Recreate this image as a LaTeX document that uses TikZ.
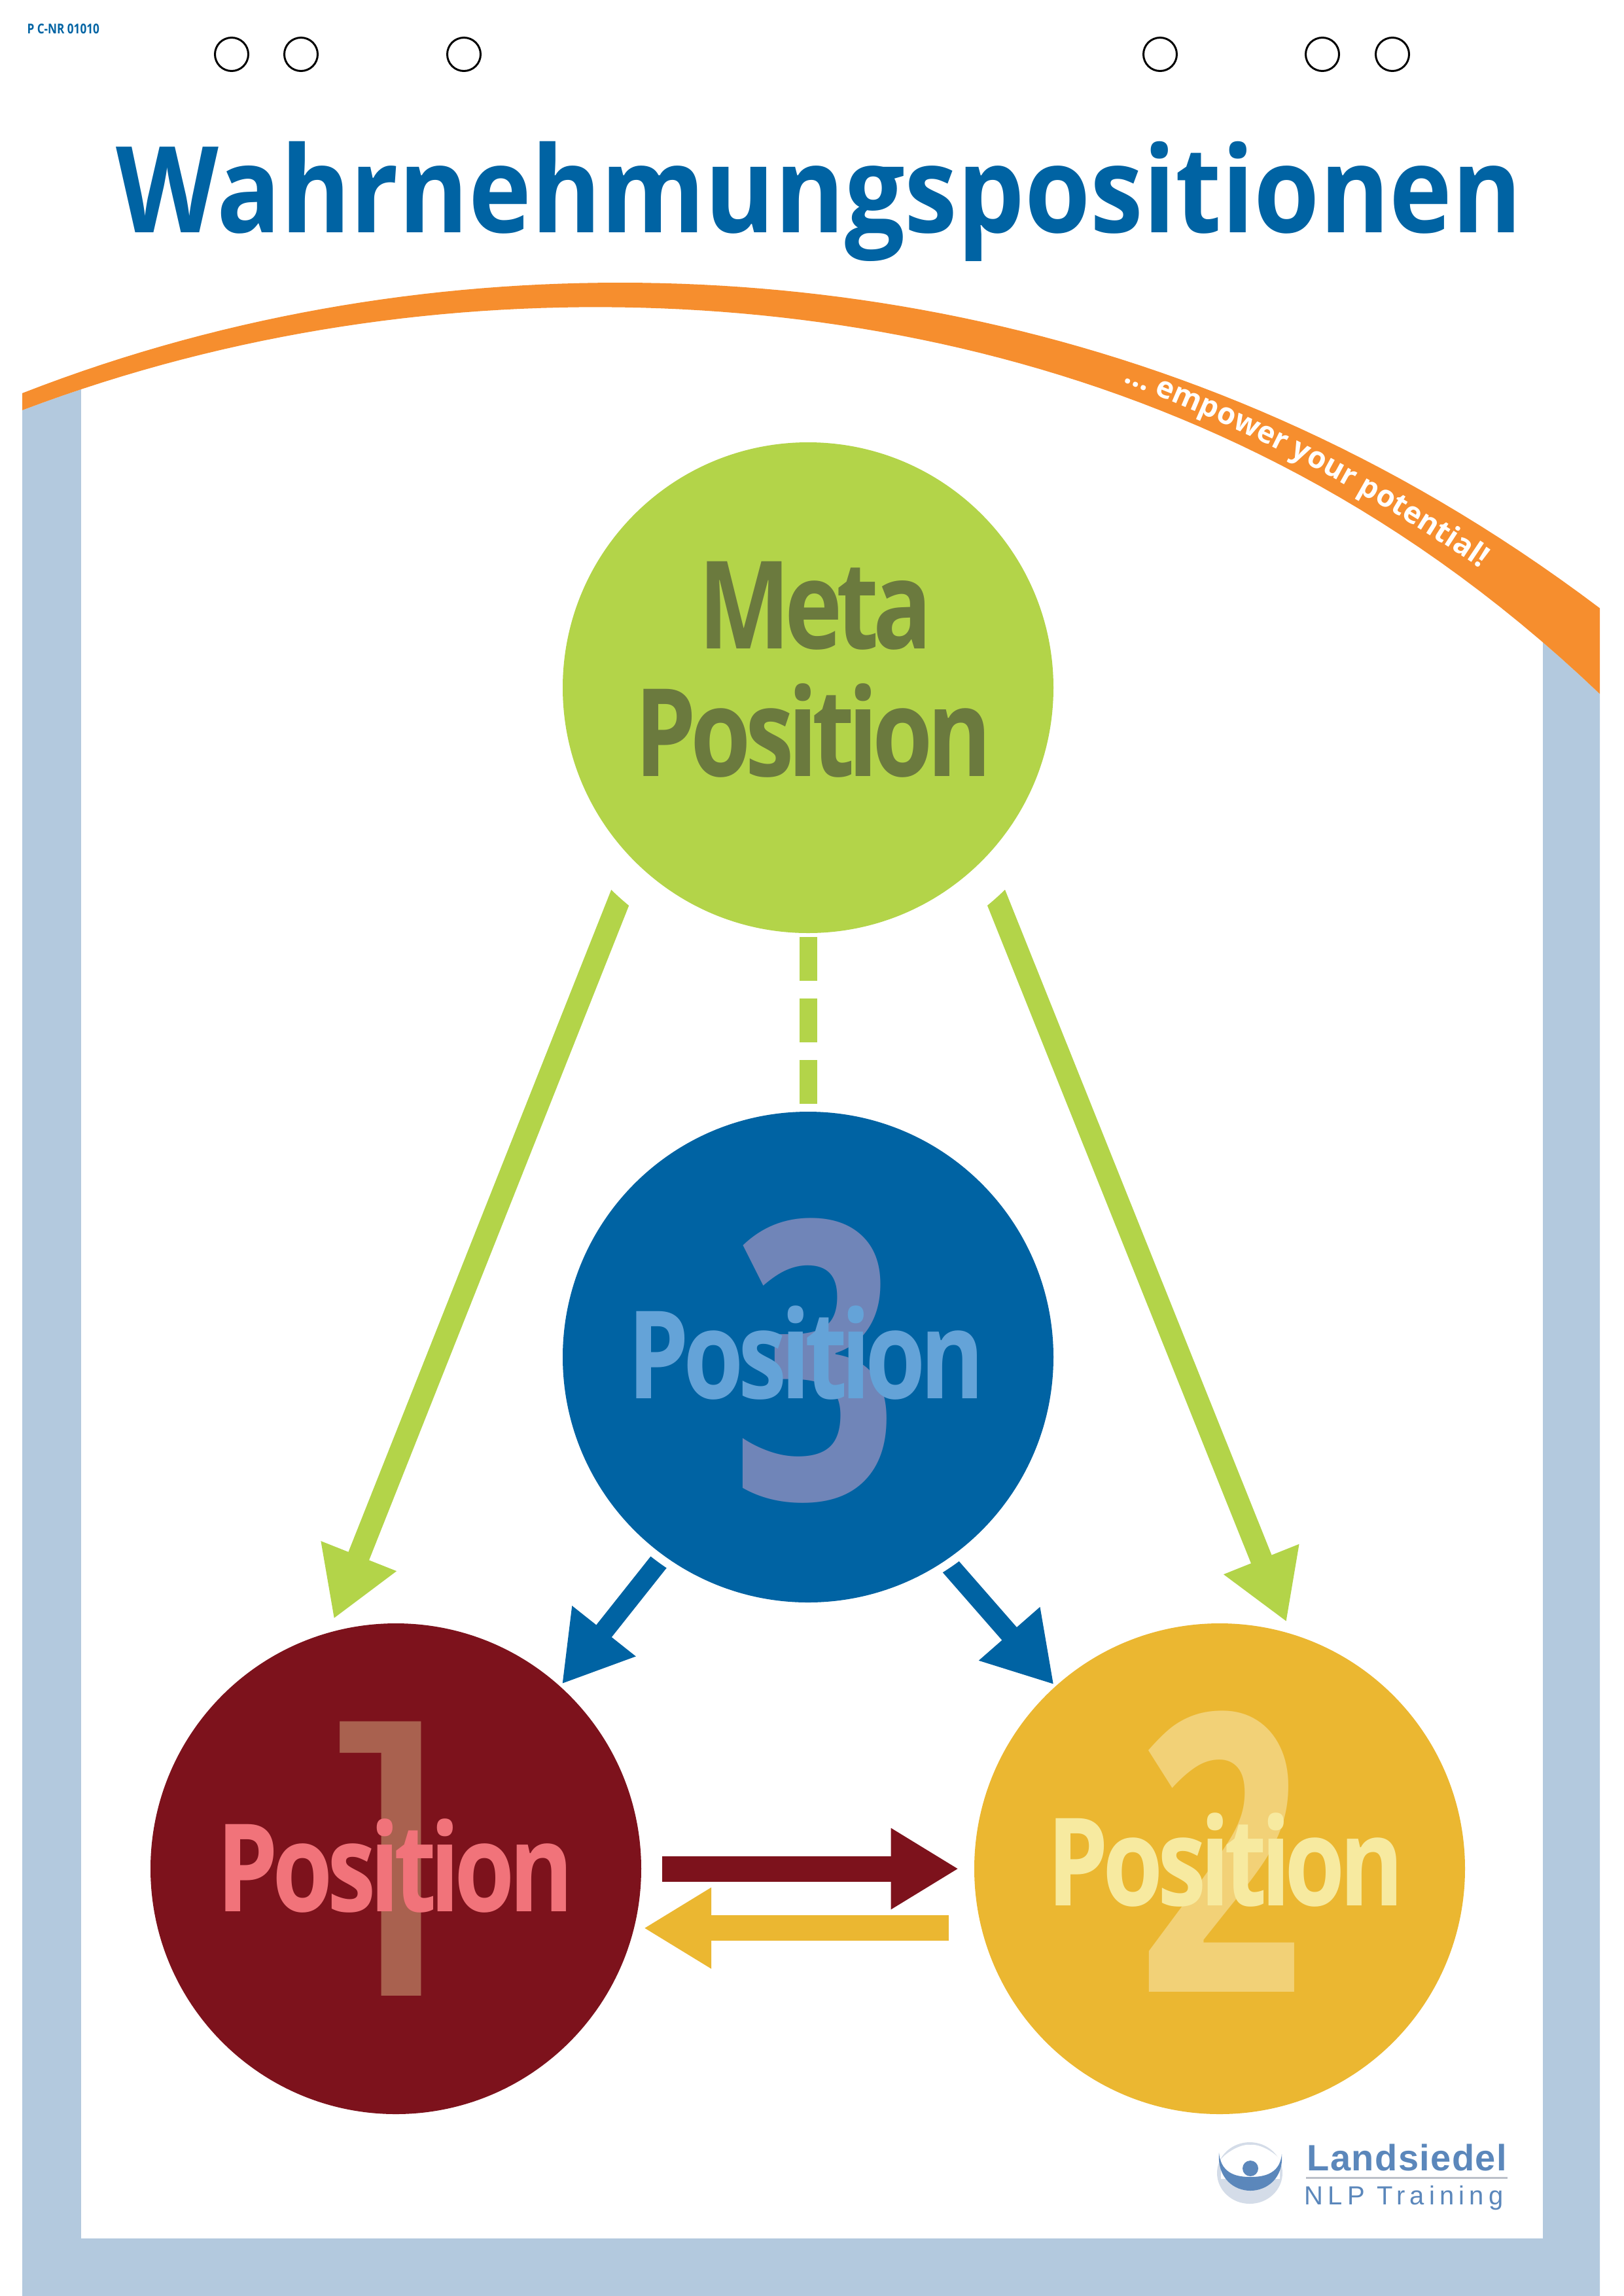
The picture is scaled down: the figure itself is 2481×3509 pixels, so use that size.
\documentclass[tikz,border=0pt]{standalone}
\usepackage{fontspec}
\usetikzlibrary{arrows.meta,decorations.text}
\newfontfamily\titlefont{Open Sans}
\newfontfamily\smallfont{Open Sans}
\newfontfamily\posfont[LetterSpace=-6]{Open Sans}
\newfontfamily\numfont{Open Sans}
\newfontfamily\onefont{Poppins}
\newfontfamily\tagfont{Open Sans}
\newfontfamily\logofont[LetterSpace=2.5]{Liberation Sans}
\newfontfamily\logothin[LetterSpace=18]{Liberation Sans}
\definecolor{framecol}{HTML}{B3C9DE}
\definecolor{bandcol}{HTML}{F68E2E}
\definecolor{titlecol}{HTML}{0063A3}
\definecolor{metacol}{HTML}{B3D449}
\definecolor{metatext}{HTML}{6B7A3E}
\definecolor{thirdcol}{HTML}{0063A3}
\definecolor{thirdtext}{HTML}{64A3D8}
\definecolor{thirdnum}{HTML}{7085B8}
\definecolor{firstcol}{HTML}{7D121C}
\definecolor{firsttext}{HTML}{F1737A}
\definecolor{firstnum}{HTML}{A9614F}
\definecolor{secondcol}{HTML}{EBB731}
\definecolor{secondtext}{HTML}{F7EAA0}
\definecolor{secondnum}{HTML}{F2D177}
\definecolor{logocol}{HTML}{5B87BB}
\definecolor{logolight}{HTML}{D4DCE8}
\pgfdeclarelayer{background}
\pgfsetlayers{background,main}
\tikzset{
  disc/.style={circle,minimum size=225pt,inner sep=0pt,outer sep=0pt},
  hole/.style={circle,draw=black,line width=0.9pt,minimum size=15.3pt,inner sep=0pt},
  postext/.style={anchor=base,inner sep=0pt,xscale=0.8,font={\posfont\bfseries\fontsize{56}{56}\selectfont}},
  numtext/.style={anchor=base,inner sep=0pt,xscale=0.75,font={\numfont\bfseries\fontsize{178}{178}\selectfont}},
  headtip/.style={-{Triangle[length=31pt,width=35pt]}},
  greenline/.style={headtip,draw=metacol,line width=10.2pt},
  blueline/.style={headtip,draw=thirdcol,line width=9pt},
  redline/.style={headtip,draw=firstcol,line width=11.7pt},
  yellowline/.style={headtip,draw=secondcol,line width=11.7pt},
}
\begin{document}
\begin{tikzpicture}[x=0.3pt,y=0.3pt,yscale=-1,xscale=1,
    declare function={
      upperedge(\x)=432+191.4*((\x-947)/1000)^2+13.5*((\x-947)/1000)^4;
      loweredge(\x)=upperedge(\x)+26+30*((\x-34)/2411)+75*((\x-34)/2411)^6;
    }]
    \useasboundingbox (0,0) rectangle (2481,3509);

    \begin{pgfonlayer}{background}
    %Shape: Frame
    \fill [framecol] plot [domain=34:2445,samples=80] (\x,{loweredge(\x)}) -- (2445,3509) -- (34,3509) -- cycle;
    \fill [white] (124,420) rectangle (2358,3421);
    %Shape: Band
    \fill [bandcol] plot [domain=34:2445,samples=80] (\x,{upperedge(\x)}) -- plot [domain=2445:34,samples=80] (\x,{loweredge(\x)}) -- cycle;
    \end{pgfonlayer}

    % Text Node
    \path [decorate,decoration={text along path,text color=white,text={|\tagfont\bfseries\fontsize{13.7}{13.7}\selectfont|... empower your potential!}}] plot [domain=1716:2400,samples=60] (\x,{upperedge(\x)+34+(\x-1716)*0.0568});

    % Text Node
    \node (nrlabel) [anchor=base west,inner sep=0pt,text=titlecol,xscale=0.83,font={\smallfont\bfseries\fontsize{6.2}{6.2}\selectfont}] at (41,51) {P C-NR 01010};
    \node (title) [anchor=base,inner sep=0pt,text=titlecol,xscale=0.885,font={\titlefont\bfseries\fontsize{55}{55}\selectfont}] at (1252,355) {Wahrnehmungspositionen};

    %Shape: Circle
    \foreach \holex/\holename in {354/a,460/b,709/c,1773/d,2021/e,2128/f}
      \node [hole] (hole\holename) at (\holex,83) {};

    %Shape: Circle
    \node [disc,fill=metacol] (meta) at (1235,1051) {};
    \node [disc,fill=thirdcol] (posthree) at (1235,2074) {};
    \node [disc,fill=firstcol] (posone) at (605,2856) {};
    \node [disc,fill=secondcol] (postwo) at (1864,2856) {};

    % Text Node
    \node (metaword) [postext,text=metatext] at (1246,991) {Meta};
    \node (metapos) [postext,text=metatext] at (1243,1186) {Position};
    \node (numthree) [numtext,text=thirdnum] at (1245,2291) {3};
    \node (textthree) [postext,text=thirdtext] at (1232,2137) {Position};
    \node (numone) [anchor=base,inner sep=0pt,text=firstnum,xscale=1.14,font={\onefont\fontsize{174}{174}\selectfont}] at (600,3050) {1};
    \node (textone) [postext,text=firsttext] at (604,2921) {Position};
    \node (numtwo) [numtext,text=secondnum] at (1865,3044) {2};
    \node (texttwo) [postext,text=secondtext] at (1873,2912) {Position};

    \begin{pgfonlayer}{background}
    %Straight Lines
    \draw [greenline,shorten >=6.9pt] (meta.225.7) -- (posone.106.5);
    \draw [greenline,shorten >=6pt] (meta.315.3) -- (postwo.73.1);
    \draw [blueline,shorten >=1.4pt] (posthree.234.9) -- (posone.48.2);
    \draw [blueline,shorten >=1.1pt] (posthree.304.7) -- (postwo.132.6);
    \draw [redline,shorten <=9.6pt,shorten >=7.2pt] (posone.0.9) -- (postwo.179.1 |- posone.0.9);
    \draw [yellowline,shorten <=15pt,shorten >=4.5pt] (postwo.194) -- (posone.346);
    %Shape: Circle
    \fill [white] (meta) circle [radius=431];
    \fill [white] (posthree) circle [radius=388];
    %Straight Lines
    \draw [draw=metacol,line width=8.1pt,dash pattern={on 20.1pt off 8.1pt},shorten <=1.8pt,shorten >=3pt] (meta.south) -- (posthree.north);
    \end{pgfonlayer}

    %Shape: Logo
    \fill [logolight] (1910,3321) ellipse [x radius=50,y radius=47];
    \fill [white] (1866,3300) .. controls (1874,3290) and (1896,3276) .. (1911,3278) .. controls (1926,3276) and (1948,3290) .. (1956,3300) -- (1956,3330) -- (1866,3330) -- cycle;
    \fill [logocol] (1863,3290) .. controls (1866,3325) and (1895,3327) .. (1911,3327) .. controls (1927,3327) and (1956,3325) .. (1959,3292) .. controls (1962,3330) and (1935,3348) .. (1911,3348) .. controls (1887,3348) and (1860,3330) .. (1863,3290) -- cycle;
    \node (logohead) [circle,fill=logocol,minimum size=7.2pt,inner sep=0pt] at (1911,3314) {};
    \node (logoname) [anchor=base west,inner sep=0pt,text=logocol,font={\logofont\bfseries\fontsize{16.8}{16.8}\selectfont}] at (1997,3317) {Landsiedel};
    \draw [color=logolight!70!gray,line width=0.9pt] (1996,3328) -- (2304,3328);
    \node (logosub) [anchor=base west,inner sep=0pt,text=logocol,font={\logothin\fontsize{12}{12}\selectfont}] at (1993,3369) {NLP Training};
\end{tikzpicture}
\end{document}
